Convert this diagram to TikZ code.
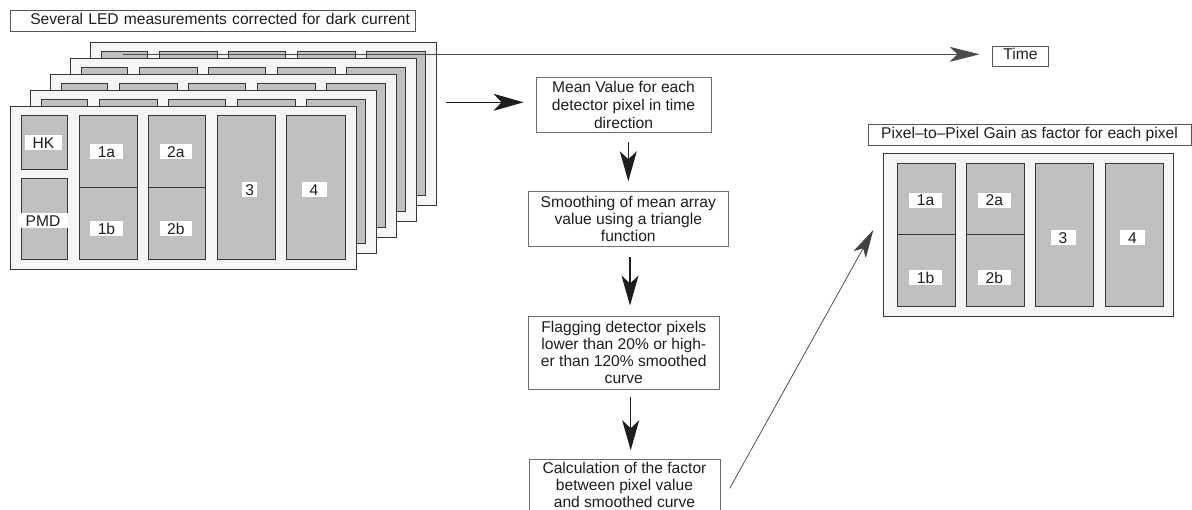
\documentclass[tikz,border=0pt]{standalone}
\usepackage{fontspec}
\setmainfont{Liberation Sans}
\usetikzlibrary{arrows.meta,calc}

\definecolor{framefill}{HTML}{F5F5F5}
\definecolor{cellfill}{HTML}{C0C0C0}
\definecolor{edge}{HTML}{383838}
\definecolor{boxedge}{HTML}{707070}
\definecolor{ink}{HTML}{1E1E1E}

\tikzset{
  txt/.style={font=\fontsize{15.6pt}{17pt}\selectfont, text=ink},
  frame/.style={draw=edge, fill=framefill, line width=1.1pt, rectangle,
    inner sep=0pt, anchor=north west},
  cell/.style={draw=edge, fill=cellfill, line width=1.1pt, rectangle,
    inner sep=0pt, anchor=north west},
  chip/.style={txt, fill=white, rectangle, inner xsep=7.6pt, inner ysep=1.9pt,
    text height=11.2pt, text depth=0pt, minimum width=25pt},
  flowbox/.style={txt, draw=boxedge, fill=white, line width=0.9pt, rectangle,
    align=center, inner sep=2pt},
  titlebox/.style={txt, draw=edge!85, fill=white, line width=0.9pt, rectangle,
    inner xsep=5pt, inner ysep=0pt, text height=11.2pt, text depth=3.3pt},
  bigarrow/.style={draw=ink, line width=1.2pt,
    -{Stealth[length=30pt, width=17pt, inset=8pt]}},
  timearrow/.style={draw=ink!80, line width=0.9pt,
    -{Stealth[length=30pt, width=15pt, inset=8pt]}},
  diagarrow/.style={draw=ink!85, line width=0.7pt,
    -{Stealth[length=28pt, width=14pt, inset=7pt]}},
}

\begin{document}
\begin{tikzpicture}[x=1pt, y=-1pt]
  \useasboundingbox (0,0) rectangle (1192,510);
  \clip (0,0) rectangle (1192,510);
  \fill[white] (0,0) rectangle (1192,510);

  % stack of detector read-outs, drawn from the back to the front
  \foreach \k in {4,3,2,1,0}{
    \begin{scope}[shift={({20*\k},{-16*\k})}]
      \node[frame, minimum width=346pt, minimum height=163pt] (fr\k) at (10,106) {};
      \foreach \nm/\cx/\cy/\cw/\ch in {hk/10.7/9/46.6/54, pmd/10.7/71.7/46.6/81.6,
          1a/69/9/57.7/72.3, 1b/69/81.3/57.7/72, 2a/138.3/9/56.7/72.3,
          2b/138.3/81.3/56.7/72, 3/207/9/58/144.3, 4/275.7/9/59.3/144.3}
        \node[cell, minimum width=\cw pt, minimum height=\ch pt] (fr\k-\nm)
          at ({10+\cx},{106+\cy}) {};
    \end{scope}
  }

  % channel names on the front read-out
  \node[chip] (l-hk)  at (43.5,143)   {HK};
  \node[chip, inner xsep=7.5pt] (l-pmd) at (43,220.5) {PMD};
  \node[chip] (l-1a)  at (106.5,151.5) {1a};
  \node[chip] (l-1b)  at (106.5,229)   {1b};
  \node[chip] (l-2a)  at (175.8,151.5) {2a};
  \node[chip] (l-2b)  at (175.8,229)   {2b};
  \node[chip, minimum width=15pt, inner xsep=3pt] (l-3) at (249.7,189.5) {3};
  \node[chip] (l-4)   at (314,189.5)   {4};

  \node[titlebox, text width=395pt, align=right, minimum height=21pt] (ledtitle)
    at (212.5,20.5) {Several LED measurements corrected for dark current};

  % time axis
  \coordinate (tstart) at (123,54.3);
  \node[titlebox, minimum width=55.6pt, minimum height=20pt] (time)
    at (1020.5,56) {Time};
  \draw[timearrow, shorten >=12.7pt] (tstart) -- (tstart -| time.west);

  % processing chain
  \node[flowbox, minimum width=175pt, minimum height=55pt,
    font=\fontsize{15.6pt}{18pt}\selectfont] (mean) at (623.5,104.5)
    {Mean Value for each\\detector pixel in time\\direction};
  \node[flowbox, minimum width=200pt, minimum height=55pt] (smooth) at (628.3,218.5)
    {Smoothing of mean array\\value using a triangle\\function};
  \node[flowbox, minimum width=191pt, minimum height=73pt] (flag) at (623.8,352.5)
    {Flagging detector pixels\\lower than 20\% or high-\\er than 120\% smoothed\\curve};
  \node[flowbox, minimum width=191pt, minimum height=52pt] (calc) at (624.5,485)
    {Calculation of the factor\\between pixel value\\and smoothed curve};

  \coordinate (stackout) at (446,102.3);
  \draw[bigarrow, shorten >=12pt] (stackout) -- (stackout -| mean.west);
  \draw[bigarrow, shorten <=9.7pt, shorten >=9.3pt]
    (mean.south -| smooth.north) -- (smooth.north);
  \draw[bigarrow, shorten <=10.7pt, shorten >=10pt]
    ([xshift=1.7pt]smooth.south) -- ([xshift=6.2pt]flag.north);
  \draw[bigarrow, shorten <=7.7pt, shorten >=8.3pt]
    ([xshift=6.9pt]flag.south) -- ([xshift=6.2pt]calc.north);

  % resulting gain map
  \node[titlebox, minimum width=323pt, minimum height=21pt] (gaintitle)
    at (1029.5,134.5) {Pixel--to--Pixel Gain as factor for each pixel};
  \node[frame, minimum width=290pt, minimum height=163pt] (panel) at (883,153) {};
  \foreach \nm/\cx/\cy/\cw/\ch in {1a/13.7/10.3/58.3/71, 1b/13.7/81.3/58.3/71.7,
      2a/82.7/10.3/58.6/71, 2b/82.7/81.3/58.6/71.7, 3/152/10.3/58.3/142.7,
      4/222/10.3/57.7/142.7}
    \node[cell, minimum width=\cw pt, minimum height=\ch pt] (panel-\nm)
      at ({883+\cx},{153+\cy}) {};
  \node[chip] (g-1a) at (925.5,200.3)  {1a};
  \node[chip] (g-1b) at (925.5,277.5)  {1b};
  \node[chip] (g-2a) at (994.3,200.3)  {2a};
  \node[chip] (g-2b) at (994.3,277.5)  {2b};
  \node[chip] (g-3)  at (1063,238)     {3};
  \node[chip] (g-4)  at (1132.5,238)   {4};

  \coordinate (gainin) at (873.3,230);
  \draw[diagarrow] ([xshift=9.3pt,yshift=-3.3pt]calc.east) -- (gainin);
\end{tikzpicture}
\end{document}
